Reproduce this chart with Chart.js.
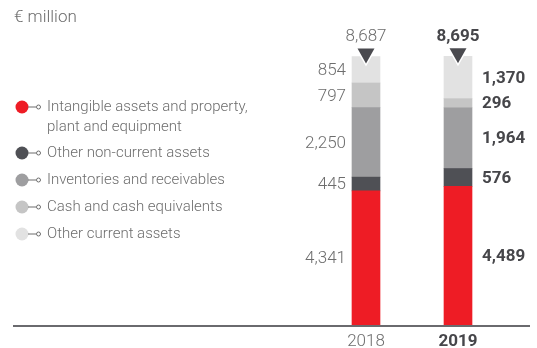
<!DOCTYPE html>
<html>
<head>
<meta charset="utf-8">
<script src="https://cdn.jsdelivr.net/npm/chart.js@4"></script>
<style>
  html, body { margin: 0; padding: 0; background: #fff; }
  #wrap { position: relative; width: 537px; height: 348px; }
</style>
</head>
<body>
<div id="wrap"><canvas id="myChart" width="537" height="348"></canvas></div>
<script>
// Bilanz-Aktiva je Jahr (Mio. €)
var years = ["2018", "2019"];
var seriesNames = [
    "Intangible assets and property,\nplant and equipment",
    "Other non-current assets",
    "Inventories and receivables",
    "Cash and cash equivalents",
    "Other current assets"
];
var intangible = [4341, 4489];
var otherNonCurrent = [445, 576];
var inventories = [2250, 1964];
var cash = [797, 296];
var otherCurrent = [854, 1370];
var totals = [8687, 8695];

var colors = ["#ee1c25", "#4f5055", "#9e9ea0", "#c5c5c5", "#e2e2e2"];
var values = [intangible, otherNonCurrent, inventories, cash, otherCurrent];
var FONT = "Roboto, 'Liberation Sans', sans-serif";
var LIGHT = '300 17px ' + FONT;
var BOLD = 'bold 17px ' + FONT;
var GREY = '#6d6d6d';
var DARK = '#46464a';

var datasets = values.map(function (v, i) {
    return {
        label: seriesNames[i],
        data: v,
        backgroundColor: colors[i],
        borderWidth: 0,
        barThickness: 28
    };
});

function setStyle(ctx, i) {
    ctx.font = i === 0 ? LIGHT : BOLD;
    ctx.fillStyle = i === 0 ? GREY : DARK;
}

// Werte, Summen, Dreiecke, Achse und Legende zeichnen
var decor = {
    id: 'decor',
    afterDatasetsDraw: function (chart) {
        var ctx = chart.ctx;
        var area = chart.chartArea;
        ctx.save();

        // Segmentwerte
        ctx.textBaseline = 'middle';
        chart.data.datasets.forEach(function (ds, di) {
            var meta = chart.getDatasetMeta(di);
            meta.data.forEach(function (bar, i) {
                var y = (bar.y + bar.base) / 2 + 1;
                var txt = ds.data[i].toLocaleString('en-US');
                setStyle(ctx, i);
                if (i === 0) {
                    ctx.textAlign = 'right';
                    ctx.fillText(txt, bar.x - 20, y);
                } else {
                    ctx.textAlign = 'left';
                    ctx.fillText(txt, bar.x + 24, y);
                }
            });
        });

        // Summen mit Dreieck
        var topMeta = chart.getDatasetMeta(chart.data.datasets.length - 1);
        topMeta.data.forEach(function (bar, i) {
            var x = bar.x;
            var top = bar.y;
            ctx.beginPath();
            ctx.moveTo(x - 8.5, top - 8);
            ctx.lineTo(x + 8.5, top - 8);
            ctx.lineTo(x, top + 7);
            ctx.closePath();
            ctx.fillStyle = '#4a4a4f';
            ctx.strokeStyle = '#ffffff';
            ctx.lineWidth = 3;
            ctx.stroke();
            ctx.fill();

            ctx.textAlign = 'center';
            ctx.textBaseline = 'middle';
            setStyle(ctx, i);
            ctx.fillText(totals[i].toLocaleString('en-US'), x, top - 20);
        });

        // Grundlinie und Jahre
        ctx.beginPath();
        ctx.moveTo(13, area.bottom + 1);
        ctx.lineTo(530, area.bottom + 1);
        ctx.strokeStyle = '#6a6a6e';
        ctx.lineWidth = 2;
        ctx.stroke();
        var xScale = chart.scales.x;
        years.forEach(function (yr, i) {
            setStyle(ctx, i);
            ctx.textAlign = 'center';
            ctx.fillText(yr, xScale.getPixelForValue(i), area.bottom + 17);
        });

        // Einheit
        ctx.textAlign = 'left';
        ctx.textBaseline = 'middle';
        ctx.font = '300 17px ' + FONT;
        ctx.fillStyle = GREY;
        ctx.fillText('€ million', 14, 18);

        // Legende
        var rowY = [107, 153, 180, 207, 234];
        chart.data.datasets.forEach(function (ds, di) {
            var y = rowY[di];
            ctx.fillStyle = ds.backgroundColor;
            ctx.beginPath();
            ctx.arc(22, y, 6.5, 0, Math.PI * 2);
            ctx.fill();
            ctx.strokeStyle = GREY;
            ctx.lineWidth = 1;
            ctx.beginPath();
            ctx.moveTo(28, y);
            ctx.lineTo(36, y);
            ctx.stroke();
            ctx.beginPath();
            ctx.arc(38.5, y, 2, 0, Math.PI * 2);
            ctx.stroke();
            ctx.font = '300 15px ' + FONT;
            ctx.fillStyle = GREY;
            ds.label.split('\n').forEach(function (line, li) {
                ctx.fillText(line, 47, y + li * 20);
            });
        });
        ctx.restore();
    }
};

new Chart('myChart', {
    type: 'bar',
    data: { labels: years, datasets: datasets },
    options: {
        responsive: false,
        animation: false,
        layout: { padding: { left: 320, right: 33, top: 16, bottom: 23 } },
        plugins: { legend: { display: false }, tooltip: { enabled: false } },
        scales: {
            x: { stacked: true, display: false },
            y: { stacked: true, display: false, min: 0, max: 10000 }
        }
    },
    plugins: [decor]
});
</script>
</body>
</html>
